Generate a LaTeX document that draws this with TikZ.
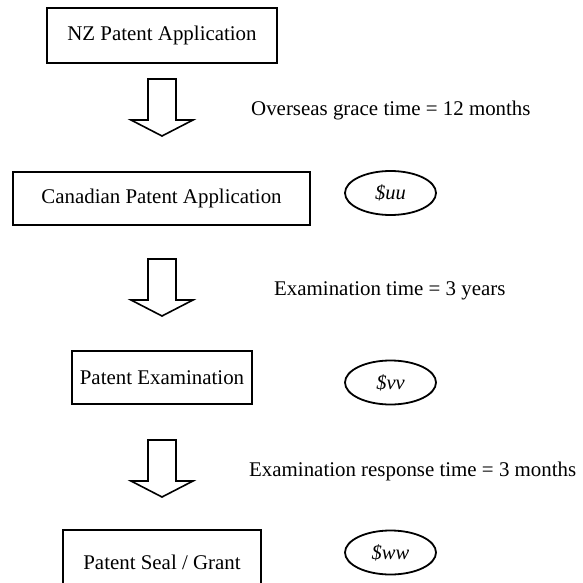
\documentclass[tikz,border=0pt]{standalone}
\usepackage{fontspec}
\setmainfont{Liberation Serif}
\usetikzlibrary{shapes.geometric}
\begin{document}
\begin{tikzpicture}[x=1pt,y=-1pt,
  every node/.style={font=\fontsize{20.9}{24}\selectfont},
  stagebox/.style={draw,line width=2pt,rectangle,inner sep=0pt},
  costtag/.style={draw,line width=1.8pt,ellipse,inner sep=0pt,
    minimum width=91pt,minimum height=44pt,font=\fontsize{20.5}{24}\selectfont\itshape},
  note/.style={anchor=base west,inner sep=0pt},
  downarrow/.pic={
    \draw[line width=1.6pt,line join=miter,fill=white]
      (-14,0) -- (14,0) -- (14,41) -- (31,41) -- (0,57) -- (-31,41) -- (-14,41) -- cycle;
  }]
\useasboundingbox (0,0) rectangle (582,583);
\clip (0,0) rectangle (582,583);

% process stages
\node[stagebox,minimum width=230pt,minimum height=55pt] (nz) at (162,35.5) {NZ Patent Application};
\node[stagebox,minimum width=297pt,minimum height=53pt] (ca) at (161.5,198.5) {Canadian Patent Application};
\node[stagebox,minimum width=180pt,minimum height=53pt] (exam) at (162,377.5) {Patent Examination};
\node[stagebox,minimum width=198pt,minimum height=64pt] (grant) at (162,562) {Patent Seal / Grant};

% costs
\node[costtag] (cuu) at (390.5,193) {\$uu};
\node[costtag] (cvv) at (390.5,382.5) {\$vv};
\node[costtag] (cww) at (390.5,552.5) {\$ww};

% block arrows between stages
\coordinate (a1) at (162,79);
\coordinate (a2) at (162,259);
\coordinate (a3) at (162,440);
\pic at (a1) {downarrow};
\pic at (a2) {downarrow};
\pic at (a3) {downarrow};

% durations
\node[note] (t1) at (251,115) {Overseas grace time = 12 months};
\node[note] (t2) at (274,295) {Examination time = 3 years};
\node[note] (t3) at (249,476) {Examination response time = 3 months};
\end{tikzpicture}
\end{document}
